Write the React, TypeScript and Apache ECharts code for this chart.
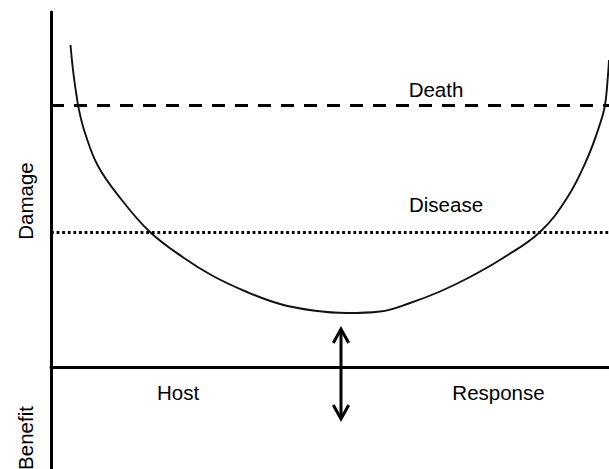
import React, { useEffect, useRef } from "react";
import * as echarts from "echarts";

// Host response (x) vs. damage (y); y = 0 is the host-response axis.
const curveX = [19.5, 22, 25, 28, 34, 47, 70, 99, 133, 162, 196, 229, 262, 296, 329, 359, 389, 419, 452, 489, 516, 536, 549, 554, 557, 558];
const curveY = [322, 297, 275, 257, 234, 201, 168, 135, 109, 91, 75, 63, 56.5, 54, 55.5, 64, 75.5, 90, 109, 135, 169, 208, 243, 262, 292, 307];
const deathLevel = 261.5;
const diseaseLevel = 134.5;
const xRange = [0, 558];
const yRange = [-102, 355];
const arrowX = 290;
const arrowTop = 39;
const arrowBottom = -53;
const lineLabels = ["Death", "Disease"];
const axisLabels = ["Host", "Response", "Damage", "Benefit"];

const FONT = '"Liberation Sans", Arial, Helvetica, sans-serif';

export default function App() {
  const ref = useRef<HTMLDivElement>(null);
  useEffect(() => {
    if (!ref.current) return;
    const chart = echarts.init(ref.current, null, { renderer: "svg" });
    const curve = curveX.map((x, i) => [x, curveY[i]]);
    const txt = (text: string, x: number, y: number, rotation = 0) => ({
      type: "text",
      x,
      y,
      rotation,
      style: {
        text,
        fill: "#000",
        font: `20.5px ${FONT}`,
        align: "center",
        verticalAlign: "middle",
      },
      z: 100,
    });
    chart.setOption({
      animation: false,
      grid: { left: 51, right: 0, top: 12, bottom: 0 },
      xAxis: {
        type: "value",
        min: xRange[0],
        max: xRange[1],
        axisLine: { show: true, onZero: true, lineStyle: { color: "#000", width: 3 } },
        axisTick: { show: false },
        axisLabel: { show: false },
        splitLine: { show: false },
      },
      yAxis: {
        type: "value",
        min: yRange[0],
        max: yRange[1],
        axisLine: { show: true, onZero: false, lineStyle: { color: "#000", width: 3 } },
        axisTick: { show: false },
        axisLabel: { show: false },
        splitLine: { show: false },
      },
      series: [
        {
          type: "line",
          data: curve,
          smooth: 0.4,
          symbol: "none",
          lineStyle: { color: "#111", width: 1.9 },
        },
        {
          type: "line",
          data: [[xRange[0], deathLevel], [xRange[1], deathLevel]],
          symbol: "none",
          lineStyle: { color: "#000", width: 3, type: [13, 10] },
        },
        {
          type: "line",
          data: [[xRange[0], diseaseLevel], [xRange[1], diseaseLevel]],
          symbol: "none",
          lineStyle: { color: "#000", width: 3, type: [2.8, 2.8] },
        },
        {
          type: "custom",
          data: [[arrowX, arrowTop, arrowBottom]],
          renderItem: (params: any, api: any) => {
            const t = api.coord([api.value(0), api.value(1)]);
            const b = api.coord([api.value(0), api.value(2)]);
            const hw = 7.7;
            const hl = 15;
            return {
              type: "group",
              children: [
                {
                  type: "line",
                  shape: { x1: t[0], y1: t[1] + 2, x2: b[0], y2: b[1] - 2 },
                  style: { stroke: "#000", lineWidth: 3 },
                },
                {
                  type: "polyline",
                  shape: { points: [[t[0] - hw, t[1] + hl], [t[0], t[1] + 1], [t[0] + hw, t[1] + hl]] },
                  style: { stroke: "#000", fill: null, lineWidth: 3, lineJoin: "miter" },
                },
                {
                  type: "polyline",
                  shape: { points: [[b[0] - hw, b[1] - hl], [b[0], b[1] - 1], [b[0] + hw, b[1] - hl]] },
                  style: { stroke: "#000", fill: null, lineWidth: 3, lineJoin: "miter" },
                },
              ],
            };
          },
        },
      ],
      graphic: [
        txt(lineLabels[0], 436, 89),
        txt(lineLabels[1], 446, 204.5),
        txt(axisLabels[0], 178, 392),
        txt(axisLabels[1], 498.5, 392),
        txt(axisLabels[2], 25, 201, Math.PI / 2),
        txt(axisLabels[3], 25, 438, Math.PI / 2),
      ],
    });
    return () => chart.dispose();
  }, []);
  return (
    <div
      ref={ref}
      style={{ position: "fixed", left: 0, top: 0, width: 609, height: 469, background: "#fff" }}
    />
  );
}
